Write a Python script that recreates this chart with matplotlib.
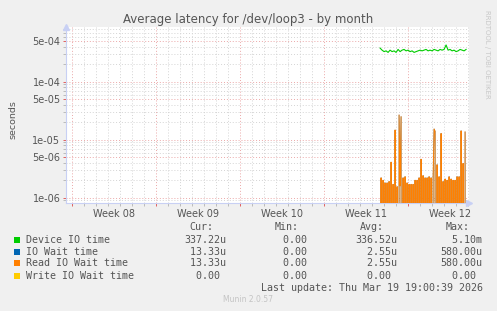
import numpy as np
import matplotlib
matplotlib.use('Agg')
import matplotlib.pyplot as plt
from matplotlib.ticker import FixedLocator, NullFormatter
from matplotlib.patches import Rectangle
from matplotlib.transforms import blended_transform_factory

# ---------------- data ----------------
title = "Average latency for /dev/loop3 - by month"
week_labels = ["Week 08", "Week 09", "Week 10", "Week 11", "Week 12"]
week_starts = [0, 7, 14, 21, 28]          # days (Monday of each week)

# Device IO time, sampled every 4 hours starting day 25.67
device_start, device_step = 25.67, 1/6
device_io = [3.8e-4, 3.5e-4, 3.3e-4, 3.4e-4, 3.2e-4, 3.5e-4, 3.3e-4, 3.4e-4,
             3.2e-4, 3.6e-4, 3.3e-4, 3.5e-4, 3.6e-4, 3.4e-4, 3.5e-4, 3.3e-4,
             3.4e-4, 3.2e-4, 3.3e-4, 3.4e-4, 3.5e-4, 3.4e-4, 3.5e-4, 3.6e-4,
             3.4e-4, 3.5e-4, 3.4e-4, 3.6e-4, 3.5e-4, 3.4e-4, 3.6e-4, 3.5e-4,
             3.6e-4, 4.3e-4, 3.5e-4, 3.6e-4, 3.4e-4, 3.5e-4, 3.3e-4, 3.4e-4,
             3.6e-4, 3.5e-4, 3.4e-4, 3.6e-4]

# Read IO wait time, sampled every 2 hours starting day 25.67
read_start, read_step = 25.67, 1/12
read_wait = [0, 2.2e-6, 0, 2.0e-6, 0, 1.8e-6, 0, 1.8e-6, 0, 1.9e-6,
             0, 4.1e-6, 0, 1.7e-6, 0, 1.47e-5, 0, 1.55e-6, 0, 2.67e-5,
             1.6e-6, 2.5e-5, 0, 2.2e-6, 0, 2.3e-6, 0, 1.8e-6, 0, 1.7e-6,
             0, 1.7e-6, 0, 1.7e-6, 0, 2.0e-6, 0, 2.0e-6, 0, 2.2e-6,
             0, 4.6e-6, 0, 2.4e-6, 0, 2.2e-6, 0, 2.2e-6, 0, 2.3e-6,
             0, 2.2e-6, 0, 2.0e-6, 1.53e-5, 1.4e-5, 0, 3.7e-6, 0, 2.3e-6,
             0, 1.28e-5, 0, 1.9e-6, 0, 2.1e-6, 0, 2.0e-6, 0, 2.3e-6,
             0, 2.1e-6, 0, 2.0e-6, 0, 2.0e-6, 0, 2.3e-6, 0, 2.3e-6,
             0, 1.42e-5, 0, 3.9e-6, 0, 1.36e-5]
io_wait = list(read_wait)                 # identical to read wait
write_wait = [0.0] * len(read_wait)

legend_labels = ["Device IO time", "IO Wait time", "Read IO Wait time", "Write IO Wait time"]
legend_colors = ["#00CC00", "#0066B3", "#FF8000", "#FFCC00"]
cur_vals = ["337.22u", " 13.33u", " 13.33u", "  0.00"]
min_vals = ["  0.00", "  0.00", "  0.00", "  0.00"]
avg_vals = ["336.52u", "  2.55u", "  2.55u", "  0.00"]
max_vals = ["  5.10m", "580.00u", "580.00u", "  0.00"]
last_update = "Last update: Thu Mar 19 19:00:39 2026"

ytick_vals = [1e-6, 5e-6, 1e-5, 5e-5, 1e-4, 5e-4]
ytick_labels = ["1e-06", "5e-06", "1e-05", "5e-05", "1e-04", "5e-04"]

# ---------------- figure ----------------
W, H = 497, 311
fig = plt.figure(figsize=(W / 100, H / 100), dpi=100, facecolor='#F0F0F0')
ax = fig.add_axes([66 / W, 1 - 203 / H, 403 / W, 176 / H])
ax.set_facecolor('white')

ax.set_yscale('log', nonpositive='clip')
ax.set_ylim(8.1e-7, 8.77e-4)
ax.set_xlim(-0.5, 33.08)

t_dev = device_start + np.arange(len(device_io)) * device_step
t_rd = read_start + np.arange(len(read_wait)) * read_step

ax.plot(t_dev, device_io, color=legend_colors[0], lw=0.8, zorder=3)
ax.plot(t_rd, io_wait, color=legend_colors[1], lw=0.45, zorder=3)
ax.plot(t_rd, read_wait, color=legend_colors[2], lw=0.7, zorder=4)
ax.plot(t_rd, write_wait, color=legend_colors[3], lw=0.6, zorder=5)

# grid
major_c = '#EBA8A8'
minor_c = '#D4D4D4'
dash = (0, (1, 2))
ax.xaxis.set_major_locator(FixedLocator(week_starts))
ax.xaxis.set_minor_locator(FixedLocator([d for d in range(0, 34) if d not in week_starts]))
ax.xaxis.set_major_formatter(NullFormatter())
ax.xaxis.set_minor_formatter(NullFormatter())
ax.yaxis.set_major_locator(FixedLocator(ytick_vals))
ax.set_yticklabels(ytick_labels)
minor_y = []
for e in (-7, -6, -5, -4):
    for m in (2, 3, 4, 6, 7, 8, 9):
        minor_y.append(m * 10.0 ** e)
ax.yaxis.set_minor_locator(FixedLocator(minor_y))
ax.yaxis.set_minor_formatter(NullFormatter())

ax.grid(True, which='major', color=major_c, lw=0.7, ls=dash, zorder=1)
ax.grid(True, which='minor', color=minor_c, lw=0.7, ls=dash, zorder=1)
ax.set_axisbelow(True)

ax.tick_params(axis='both', which='both', length=2, width=0.7, labelsize=7,
               labelcolor='#555555', pad=2)
ax.tick_params(axis='x', which='major', color='#E06060')
ax.tick_params(axis='x', which='minor', color='#BBBBBB')
ax.tick_params(axis='y', which='major', color='#E06060')
ax.tick_params(axis='y', which='minor', color='#BBBBBB')

for s in ('top', 'right'):
    ax.spines[s].set_visible(False)
axis_c = '#C8D0F4'
for s in ('left', 'bottom'):
    ax.spines[s].set_color(axis_c)
    ax.spines[s].set_linewidth(0.8)

# axis arrows
ax.plot([0], [1.0], marker='^', ms=4, color=axis_c, transform=ax.transAxes,
        clip_on=False, zorder=6)
ax.plot([1.0], [0], marker='>', ms=4, color=axis_c, transform=ax.transAxes,
        clip_on=False, zorder=6)

# week labels centred within weeks
trans = blended_transform_factory(ax.transData, ax.transAxes)
for ws, lab in zip(week_starts, week_labels):
    ax.text(ws + 3.5, -0.035, lab, transform=trans, ha='center', va='top',
            fontsize=7, color='#555555')

ax.set_ylabel("seconds", fontsize=6.8, color='#555555')
ax.yaxis.set_label_coords((17 - 66) / 403, (203 - 120) / 176)

# title
fig.text(248 / W, 1 - 19 / H, title, ha='center', va='center',
         fontsize=8.5, color='#555555')
# side text
fig.text(487 / W, 1 - 54 / H, "RRDTOOL / TOBI OETIKER", rotation=270,
         ha='center', va='center', fontsize=5, color='#C8C8C8')

# legend
mono = 'DejaVu Sans Mono'
fs = 7.2
tc = '#555555'
def fy(y):
    return 1 - y / H

for x, h in zip((213, 299, 384, 470), ("Cur:", "Min:", "Avg:", "Max:")):
    fig.text(x / W, fy(227.3), h, ha='right', va='center', family=mono,
             fontsize=fs, color=tc)

rows_y = [239.7, 251.7, 263.3, 275.7]
for i, y in enumerate(rows_y):
    fig.add_artist(Rectangle((14 / W, fy(y + 3)), 6 / W, 6 / H,
                             facecolor=legend_colors[i], edgecolor='none',
                             transform=fig.transFigure))
    fig.text(26 / W, fy(y), legend_labels[i], ha='left', va='center',
             family=mono, fontsize=fs, color=tc)
    for x0, vals in zip((184.3, 270.9, 355.3, 440.0),
                        (cur_vals, min_vals, avg_vals, max_vals)):
        fig.text(x0 / W, fy(y), vals[i], ha='left', va='center',
                 family=mono, fontsize=fs, color=tc)

fig.text(483 / W, fy(287.7), last_update, ha='right', va='center',
         family=mono, fontsize=fs, color=tc)
fig.text(248 / W, fy(300), "Munin 2.0.57", ha='center', va='center',
         fontsize=5.5, color='#C4C4C4')

fig.savefig('out.png', dpi=100, facecolor=fig.get_facecolor())
